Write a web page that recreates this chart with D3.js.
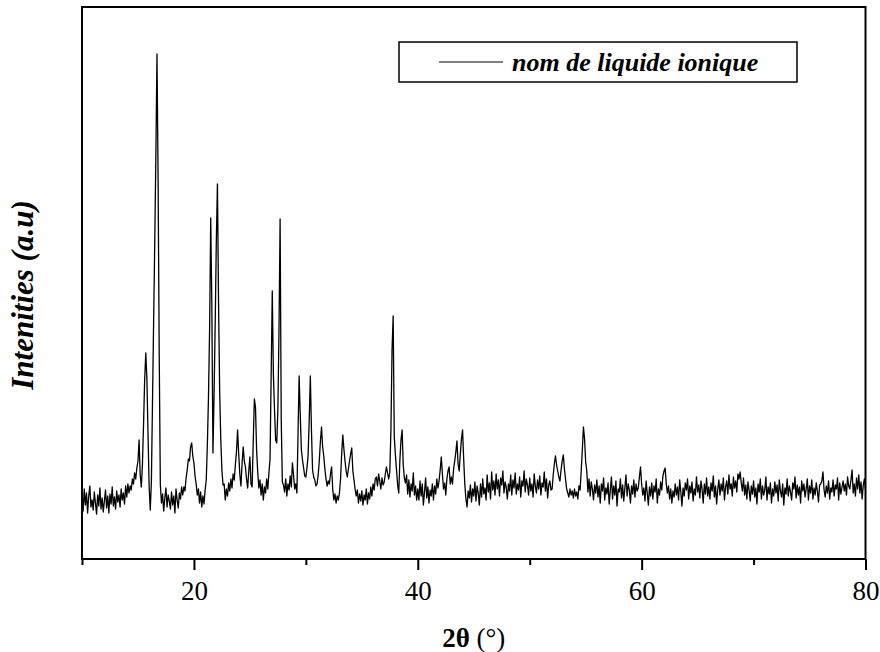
<!DOCTYPE html>
<html>
<head>
<meta charset="utf-8">
<script src="https://cdn.jsdelivr.net/npm/d3@7"></script>
<style>
body { margin:0; background:#fff; }
text { font-family: "Liberation Serif", "Times New Roman", serif; }
</style>
</head>
<body>
<svg id="xrd"></svg>
<script>
// 2theta grid of the scan
var startAngle = 10;
var stepAngle = 0.1;

// intensities (a.u.), one block per 10 degrees
var int10to20 = [
    120, 96, 140, 108, 132, 92, 126, 146, 104, 118,
    98, 134, 112, 90, 128, 106, 142, 100, 122, 94,
    116, 138, 102, 126, 92, 130, 110, 144, 106, 124,
    100, 136, 114, 128, 104, 140, 118, 132, 110, 146,
    124, 150, 132, 146, 138, 160, 150, 172, 160, 182,
    196, 238, 168, 144, 190, 270, 360, 412, 358, 248,
    144, 98, 156, 316, 476, 634, 808, 1010, 756, 406,
    148, 112, 130, 96, 122, 142, 104, 128, 116, 100,
    134, 108, 126, 92, 140, 118, 102, 132, 120, 144,
    128, 144, 136, 162, 178, 200, 196, 224, 232, 206
];
var int20to30 = [
    192, 166, 150, 128, 140, 112, 134, 104, 126, 110,
    138, 158, 228, 324, 458, 682, 506, 212, 330, 472,
    634, 750, 512, 336, 238, 178, 148, 150, 118, 140,
    126, 152, 136, 160, 142, 170, 158, 188, 214, 258,
    210, 170, 146, 190, 224, 196, 184, 160, 142, 176,
    204, 150, 144, 236, 320, 304, 218, 174, 142, 158,
    128, 150, 118, 144, 132, 160, 140, 172, 200, 368,
    536, 368, 298, 238, 232, 298, 458, 680, 278, 154,
    148, 134, 160, 126, 150, 138, 166, 144, 192, 168,
    140, 150, 132, 250, 366, 288, 218, 198, 182, 166
];
var int30to40 = [
    164, 182, 208, 278, 366, 258, 178, 164, 158, 146,
    150, 168, 196, 236, 264, 224, 206, 180, 160, 146,
    156, 150, 170, 184, 140, 118, 130, 112, 126, 118,
    132, 160, 210, 248, 220, 196, 176, 164, 180, 196,
    210, 222, 176, 158, 140, 126, 138, 112, 130, 116,
    136, 108, 128, 118, 140, 110, 132, 120, 144, 126,
    150, 138, 160, 164, 146, 170, 156, 140, 162, 148,
    154, 170, 184, 172, 160, 174, 258, 418, 486, 244,
    208, 178, 148, 132, 198, 238, 258, 188, 162, 152,
    168, 130, 158, 124, 150, 136, 172, 128, 146, 118
];
var int40to50 = [
    140, 118, 156, 126, 150, 108, 134, 162, 122, 144,
    112, 138, 126, 150, 118, 146, 130, 160, 142, 156,
    178, 204, 170, 140, 152, 128, 160, 176, 184, 150,
    164, 150, 180, 196, 214, 236, 190, 176, 210, 240,
    258, 200, 150, 120, 104, 136, 122, 148, 114, 140,
    126, 154, 116, 146, 132, 108, 150, 124, 160, 130,
    142, 118, 168, 134, 152, 120, 174, 138, 156, 128,
    170, 140, 158, 126, 162, 148, 176, 132, 154, 144,
    120, 150, 136, 168, 128, 158, 142, 172, 130, 150,
    138, 164, 124, 156, 146, 176, 134, 160, 148, 128
];
var int50to60 = [
    162, 136, 150, 124, 170, 146, 132, 158, 140, 166,
    128, 152, 144, 174, 136, 160, 122, 148, 156, 138,
    140, 168, 190, 206, 188, 176, 164, 156, 178, 196,
    208, 180, 160, 140, 132, 124, 140, 128, 136, 122,
    140, 126, 134, 120, 146, 138, 176, 218, 264, 240,
    194, 176, 134, 160, 126, 154, 140, 118, 148, 132,
    158, 124, 146, 112, 150, 136, 162, 118, 142, 130,
    152, 110, 138, 164, 120, 146, 128, 156, 106, 140,
    134, 160, 122, 148, 116, 142, 168, 126, 150, 138,
    112, 146, 130, 158, 124, 150, 136, 142, 164, 184
];
var int60to70 = [
    150, 128, 142, 116, 156, 132, 108, 144, 126, 152,
    120, 146, 134, 160, 112, 140, 128, 154, 138, 166,
    176, 182, 150, 132, 146, 120, 140, 112, 136, 124,
    150, 128, 144, 118, 158, 134, 106, 142, 126, 152,
    138, 160, 120, 146, 132, 154, 116, 140, 128, 164,
    134, 148, 122, 156, 140, 112, 150, 130, 162, 126,
    144, 120, 152, 136, 166, 124, 146, 110, 140, 158,
    128, 150, 136, 162, 118, 144, 156, 130, 168, 140,
    150, 126, 164, 142, 156, 134, 170, 160, 174, 152,
    136, 162, 128, 148, 120, 154, 138, 116, 146, 130
];
var int70to80 = [
    156, 124, 142, 110, 150, 134, 160, 120, 146, 128,
    138, 164, 118, 144, 130, 152, 112, 140, 126, 154,
    132, 148, 116, 158, 136, 124, 150, 108, 142, 130,
    160, 126, 146, 134, 118, 152, 140, 164, 122, 148,
    128, 144, 112, 156, 136, 150, 124, 140, 160, 118,
    146, 132, 158, 120, 142, 128, 152, 136, 114, 148,
    150, 156, 174, 138, 124, 146, 132, 156, 120, 142,
    134, 158, 126, 148, 140, 162, 118, 152, 130, 144,
    156, 136, 150, 128, 164, 146, 140, 158, 178, 132,
    150, 126, 162, 140, 168, 132, 154, 120, 148, 160,
    138
];

var xTicks = [20, 40, 60, 80];
var xMinorTicks = [10, 30, 50, 70];
var seriesName = "nom de liquide ionique";

var pattern = [].concat(int10to20, int20to30, int30to40, int40to50,
                        int50to60, int60to70, int70to80)
    .map(function(v, i) {
        return {angle: Math.round((startAngle + i * stepAngle) * 10) / 10, intensity: v};
    });

var drawPattern = function(data, width, height)
{
    var frame = {left:82, right:865.5, top:7, bottom:559};

    var svg = d3.select("#xrd")
        .attr("width", width)
        .attr("height", height);

    var xScale = d3.scaleLinear()
        .domain([10, 80])
        .range([frame.left, frame.right]);

    var yScale = d3.scaleLinear()
        .domain([0, 1104])
        .range([frame.bottom, frame.top]);

    // minor ticks (no labels)
    svg.append("g")
        .attr("transform", "translate(0," + frame.bottom + ")")
        .call(d3.axisBottom(xScale).tickValues(xMinorTicks)
              .tickSize(6).tickSizeOuter(0).tickFormat(""))
        .call(function(g) { g.select(".domain").remove(); })
        .selectAll("line").attr("stroke-width", 2);

    // major ticks
    var xAxis = svg.append("g")
        .attr("transform", "translate(0," + frame.bottom + ")")
        .call(d3.axisBottom(xScale).tickValues(xTicks)
              .tickSize(11).tickSizeOuter(0).tickPadding(11)
              .tickFormat(d3.format("d")));
    xAxis.select(".domain").remove();
    xAxis.selectAll("line").attr("stroke-width", 2);
    xAxis.selectAll("text")
        .attr("font-family", "'Liberation Serif', 'Times New Roman', serif")
        .attr("font-size", 27)
        .attr("fill", "#000");

    var line = d3.line()
        .x(function(d) { return xScale(d.angle); })
        .y(function(d) { return yScale(d.intensity); });

    svg.append("path")
        .datum(data)
        .attr("d", line)
        .attr("fill", "none")
        .attr("stroke", "#000")
        .attr("stroke-width", 1.3)
        .attr("stroke-linejoin", "round");

    // frame
    svg.append("rect")
        .attr("x", frame.left)
        .attr("y", frame.top)
        .attr("width", frame.right - frame.left)
        .attr("height", frame.bottom - frame.top)
        .attr("fill", "none")
        .attr("stroke", "#000")
        .attr("stroke-width", 2);

    // legend
    var legend = svg.append("g").classed("legend", true);
    legend.append("rect")
        .attr("x", 399).attr("y", 42)
        .attr("width", 398).attr("height", 40)
        .attr("fill", "#fff")
        .attr("stroke", "#000")
        .attr("stroke-width", 1.5);
    legend.append("line")
        .attr("x1", 439).attr("x2", 503)
        .attr("y1", 62).attr("y2", 62)
        .attr("stroke", "#000")
        .attr("stroke-width", 1.2);
    legend.append("text")
        .text(seriesName)
        .attr("x", 512).attr("y", 71)
        .attr("font-size", 26)
        .attr("font-weight", "bold")
        .attr("font-style", "italic");

    // axis titles
    var xTitle = svg.append("text")
        .attr("text-anchor", "middle")
        .attr("x", (frame.left + frame.right) / 2)
        .attr("y", 647)
        .attr("font-size", 27);
    xTitle.append("tspan").attr("font-weight", "bold").text("2θ");
    xTitle.append("tspan").text(" (°)");

    svg.append("g")
        .attr("transform", "translate(33," + 295 + ")")
        .append("text")
        .text("Intenities (a.u)")
        .attr("text-anchor", "middle")
        .attr("transform", "rotate(-90)")
        .attr("font-size", 31)
        .attr("font-weight", "bold")
        .attr("font-style", "italic");
}

drawPattern(pattern, 880, 652);
</script>
</body>
</html>
